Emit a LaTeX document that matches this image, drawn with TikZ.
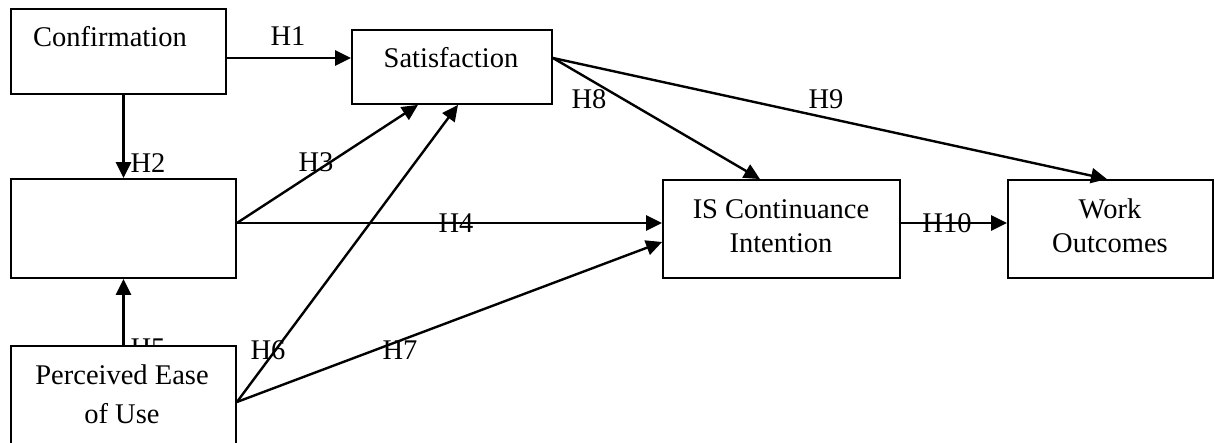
\documentclass[tikz,border=0pt]{standalone}
\usepackage{fontspec}
\setmainfont{Liberation Serif}
\usetikzlibrary{arrows.meta,calc}
\begin{document}
\begin{tikzpicture}[x=1pt,y=-1pt,
  box/.style={draw,line width=1.8pt,fill=white,rectangle,inner sep=0pt},
  txt/.style={font=\fontsize{28.5}{34}\selectfont,inner sep=0pt,align=center},
  hyp/.style={font=\fontsize{28.5}{34}\selectfont,inner sep=0pt},
  link/.style={line width=2.4pt,-{Triangle[length=16pt,width=15pt]}}]
\useasboundingbox (0,0) rectangle (1215,443);
\clip (0,0) rectangle (1215,443);

% H5 is set first so the ease-of-use box covers most of it
\node[hyp] (h5) at (148,348.5) {H5};

% constructs
\node[box,minimum width=215pt,minimum height=85pt] (conf) at (118.5,51.5) {};
\node[box,minimum width=200pt,minimum height=74pt] (sat)  at (452,67) {};
\node[box,minimum width=225pt,minimum height=99pt] (mid)  at (123.5,228.5) {};
\node[box,minimum width=225pt,minimum height=124pt] (peou) at (123.5,408) {};
\node[box,minimum width=237pt,minimum height=98pt] (isci) at (781.5,229) {};
\node[box,minimum width=205pt,minimum height=98pt] (wo)   at (1110.5,229) {};

\node[txt] (confT) at (110,37) {Confirmation};
\node[txt] (satT)  at (451,58) {Satisfaction};
\node[txt,font=\fontsize{28.5}{39}\selectfont] (peouT) at (122,394) {Perceived Ease\\of Use};
\node[txt] (isciT) at (781,226) {IS Continuance\\Intention};
\node[txt] (woT)   at (1110,226) {Work\\Outcomes};

% hypothesis labels
\node[hyp] (h1)  at (288,36)  {H1};
\node[hyp] (h2)  at (148,163) {H2};
\node[hyp] (h3)  at (316,162) {H3};
\node[hyp] (h4)  at (456,223) {H4};
\node[hyp] (h6)  at (268,350) {H6};
\node[hyp] (h7)  at (400,350) {H7};
\node[hyp] (h8)  at (589,99)  {H8};
\node[hyp] (h9)  at (826,99)  {H9};
\node[hyp] (h10) at (947,223) {H10};

% paths
\draw[link] ([yshift=-6.5pt]conf.east) -- ([yshift=9pt]sat.west);
\draw[link] (mid.north |- conf.south) -- (mid.north);
\draw[link] (peou.north) -- (mid.south);
\draw[link] ([yshift=5.5pt]mid.east) -- ([xshift=-34pt]sat.south);
\draw[link] ([yshift=5.5pt]mid.east) -- ([yshift=6pt]isci.west);
\draw[link] ([yshift=6pt]peou.east) -- ([xshift=6pt]sat.south);
\draw[link] ([yshift=6pt]peou.east) -- ([yshift=-13pt]isci.west);
\draw[link] ([yshift=9pt]sat.east) -- ([xshift=-21.5pt]isci.north);
\draw[link] ([yshift=9pt]sat.east) -- ([xshift=-3.5pt]wo.north);
\draw[link] ([yshift=6pt]isci.east) -- ([yshift=6pt]wo.west);
\end{tikzpicture}
\end{document}
